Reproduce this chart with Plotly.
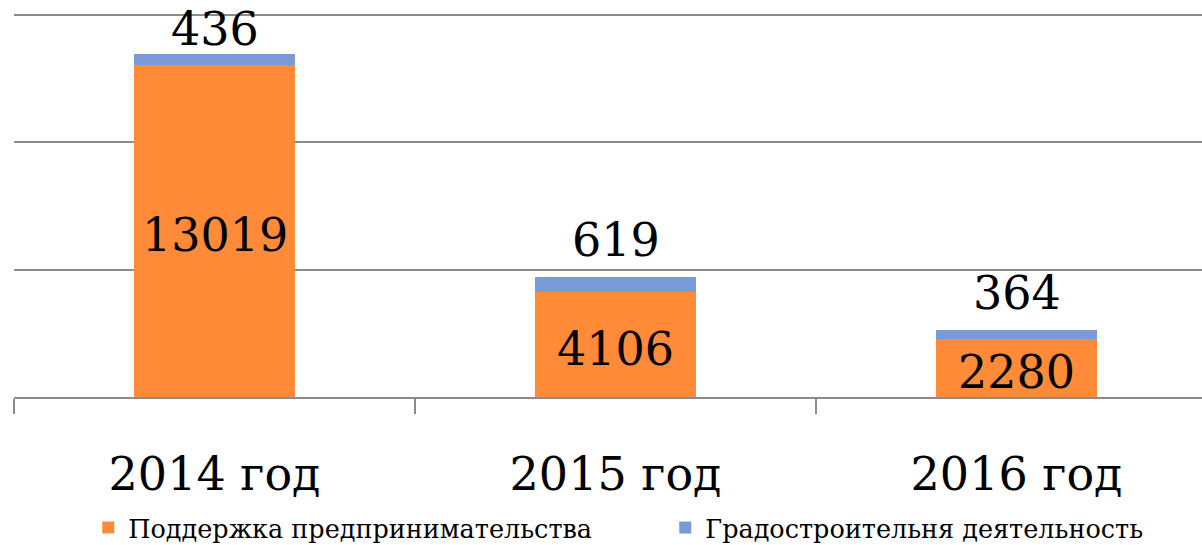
import plotly.graph_objects as go

# Категории и значения
years = ["2014 год", "2015 год", "2016 год"]
support_business = [13019, 4106, 2280]
urban_planning = [436, 619, 364]

ORANGE = "#FF8A37"
BLUE = "#7A9BD8"
GRID = "#8C8C8C"
FONT = "DejaVu Serif"
LABEL_FONT = dict(family=FONT, size=46, color="black")

# Смещение верхних подписей (px): у первого столбца подпись прижата ближе
top_label_shift = [-4, 8, 8]

fig = go.Figure()

fig.add_trace(go.Bar(
    name="Поддержка предпринимательства",
    x=years, y=support_business,
    marker=dict(color=ORANGE, line=dict(width=0)),
    width=0.4,
))
fig.add_trace(go.Bar(
    name="Градостроительня деятельность",
    x=years, y=urban_planning,
    marker=dict(color=BLUE, line=dict(width=0)),
    width=0.4,
))

# Подписи значений: нижний сегмент — по центру, верхний — над столбцом
for year, low, top, shift in zip(years, support_business, urban_planning, top_label_shift):
    fig.add_annotation(
        x=year, y=low / 2, text=str(low), showarrow=False,
        yanchor="middle", yshift=-4, font=LABEL_FONT,
    )
    fig.add_annotation(
        x=year, y=low + top, text=str(top), showarrow=False,
        yanchor="bottom", yshift=shift, font=LABEL_FONT,
    )

fig.update_layout(
    barmode="stack",
    width=1202, height=545,
    margin=dict(l=14, r=0, t=14, b=148, autoexpand=False),
    paper_bgcolor="white", plot_bgcolor="white",
    font=dict(family=FONT, color="black"),
    showlegend=True,
    legend=dict(
        orientation="h", x=0.0625, xanchor="left", y=-0.342, yanchor="middle",
        font=dict(family=FONT, size=25.5, color="black"),
        entrywidth=532, traceorder="normal",
    ),
    xaxis=dict(
        range=[-0.5, 2.4626],
        showline=True, linecolor=GRID, linewidth=2,
        ticks="outside", tickson="boundaries", ticklen=15, tickwidth=2, tickcolor=GRID,
        tickfont=dict(family=FONT, size=46, color="black"),
        ticklabelstandoff=36,
        showgrid=False,
    ),
    yaxis=dict(
        range=[0, 15040], tick0=0, dtick=5000,
        showgrid=True, gridcolor=GRID, gridwidth=1.5,
        showticklabels=False, zeroline=False, showline=False,
    ),
)

fig.write_html("out.html")
